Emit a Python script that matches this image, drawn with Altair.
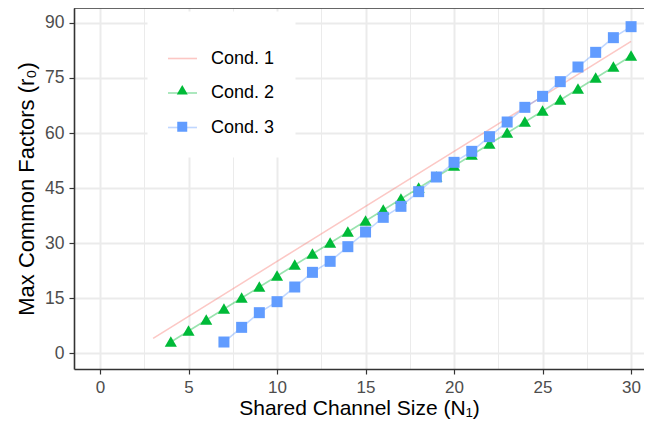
import altair as alt
import pandas as pd

conds = ["Cond. 1", "Cond. 2", "Cond. 3"]
pt_keys = ["p1", "p2", "p3"]
line_colors = ["#F8766D", "#00BA38", "#619CFF"]

cond1_x = [3, 4, 5, 6, 7, 8, 9, 10, 11, 12, 13, 14, 15, 16, 17, 18, 19, 20,
           21, 22, 23, 24, 25, 26, 27, 28, 29, 30]
cond1_y = [4, 7, 10, 13, 16, 19, 22, 25, 28, 31, 34, 37, 40, 43, 46, 49, 52, 55,
           58, 61, 64, 67, 70, 73, 76, 79, 82, 85]

cond2_x = [4, 5, 6, 7, 8, 9, 10, 11, 12, 13, 14, 15, 16, 17, 18, 19, 20,
           21, 22, 23, 24, 25, 26, 27, 28, 29, 30]
cond2_y = [3, 6, 9, 12, 15, 18, 21, 24, 27, 30, 33, 36, 39, 42, 45, 48, 51,
           54, 57, 60, 63, 66, 69, 72, 75, 78, 81]

cond3_x = [7, 8, 9, 10, 11, 12, 13, 14, 15, 16, 17, 18, 19, 20,
           21, 22, 23, 24, 25, 26, 27, 28, 29, 30]
cond3_y = [3, 7, 11, 14, 18, 22, 25, 29, 33, 37, 40, 44, 48, 52,
           55, 59, 63, 67, 70, 74, 78, 82, 86, 89]

x_ticks = [0, 2.5, 5, 7.5, 10, 12.5, 15, 17.5, 20, 22.5, 25, 27.5, 30]
y_ticks = [0, 7.5, 15, 22.5, 30, 37.5, 45, 52.5, 60, 67.5, 75, 82.5, 90]

rows = []
for name, key, xs, ys in [(conds[0], pt_keys[0], cond1_x, cond1_y),
                          (conds[1], pt_keys[1], cond2_x, cond2_y),
                          (conds[2], pt_keys[2], cond3_x, cond3_y)]:
    for xv, yv in zip(xs, ys):
        rows.append({"n1": xv, "r0": yv, "cond": name, "cond_pt": key})
df = pd.DataFrame(rows)

FONT = "Liberation Sans"
TRI = "M0,-1.05L1.1,0.85L-1.1,0.85Z"

x_enc = alt.X(
    "n1:Q",
    scale=alt.Scale(domain=[-1.47, 30.73], nice=False, zero=False),
    axis=alt.Axis(
        values=x_ticks,
        labelExpr="datum.value % 5 === 0 ? datum.label : ''",
        title="Shared Channel Size (N₁)",
        grid=True,
        gridColor="#EBEBEB",
        gridWidth={"condition": {"test": "datum.value % 5 !== 0", "value": 1}, "value": 2},
        tickOpacity={"condition": {"test": "datum.value % 5 !== 0", "value": 0}, "value": 1},
        tickColor="#333333",
        tickSize=5,
        tickWidth=1.2,
        domainColor="#333333",
        domainWidth=1.6,
        labelFontSize=17,
        labelColor="#4D4D4D",
        labelPadding=5,
        titleFontSize=21,
        titleFontWeight="normal",
        titleColor="#000000",
        titlePadding=2,
    ),
)
y_enc = alt.Y(
    "r0:Q",
    scale=alt.Scale(domain=[-4.36, 94.09], nice=False, zero=False),
    axis=alt.Axis(
        values=y_ticks,
        labelExpr="datum.value % 15 === 0 ? datum.label : ''",
        title="Max Common Factors (r₀)",
        grid=True,
        gridColor="#EBEBEB",
        gridWidth={"condition": {"test": "datum.value % 15 !== 0", "value": 1}, "value": 2},
        tickOpacity={"condition": {"test": "datum.value % 15 !== 0", "value": 0}, "value": 1},
        tickColor="#333333",
        tickSize=5,
        tickWidth=1.2,
        domainColor="#333333",
        domainWidth=1.6,
        labelFontSize=17.5,
        labelColor="#4D4D4D",
        labelPadding=5,
        titleFontSize=22,
        titleFontWeight="normal",
        titleColor="#000000",
        titlePadding=6,
    ),
)

lines = alt.Chart(df).mark_line(strokeWidth=1.6, opacity=0.4).encode(
    x=x_enc,
    y=y_enc,
    stroke=alt.Stroke(
        "cond:N",
        scale=alt.Scale(domain=conds, range=line_colors),
        legend=alt.Legend(
            orient="none",
            legendX=73,
            legendY=3,
            title="\u00a0",
            titleFontSize=12,
            titlePadding=0,
            padding=20,
            fillColor="#FFFFFF",
            strokeColor="transparent",
            symbolType="stroke",
            symbolSize=841,
            symbolStrokeWidth=1.6,
            symbolOpacity=0.4,
            labelFontSize=18,
            labelColor="#000000",
            labelOffset=13,
            rowPadding=9.5,
            zindex=0,
        ),
    ),
)

pt_legend = alt.Legend(
    orient="none",
    legendX=79.5,
    legendY=5,
    title="\u00a0",
    titleFontSize=12,
    titlePadding=0,
    padding=20,
    fillColor="transparent",
    strokeColor="transparent",
    labelFontSize=17.5,
    labelExpr="''",
    labelColor="transparent",
    rowPadding=17.5,
    zindex=1,
)

pts_df = df[df["cond"] != conds[0]]
points = alt.Chart(pts_df).mark_point(filled=True, size=121, strokeWidth=0, opacity=1).encode(
    x=alt.X("n1:Q"),
    y=alt.Y("r0:Q"),
    fill=alt.Fill(
        "cond_pt:N",
        scale=alt.Scale(domain=pt_keys, range=["transparent", "#00BA38", "#619CFF"]),
        legend=pt_legend,
    ),
    shape=alt.Shape(
        "cond_pt:N",
        scale=alt.Scale(domain=pt_keys, range=["circle", TRI, "square"]),
        legend=pt_legend,
    ),
)

border = alt.Chart(pd.DataFrame({"top": [94.09]})).mark_rule(
    color="#333333", strokeWidth=1.6
).encode(y=alt.Y("top:Q"))

chart = alt.layer(lines, points, border).properties(
    width=570,
    height=361,
    autosize=alt.AutoSizeParams(type="none"),
    padding={"left": 66, "top": 0, "right": 0, "bottom": 51},
).configure(font=FONT).configure_view(stroke=None, fill="#FFFFFF")

chart.save("out.html", embed_options={"renderer": "svg", "actions": False})
